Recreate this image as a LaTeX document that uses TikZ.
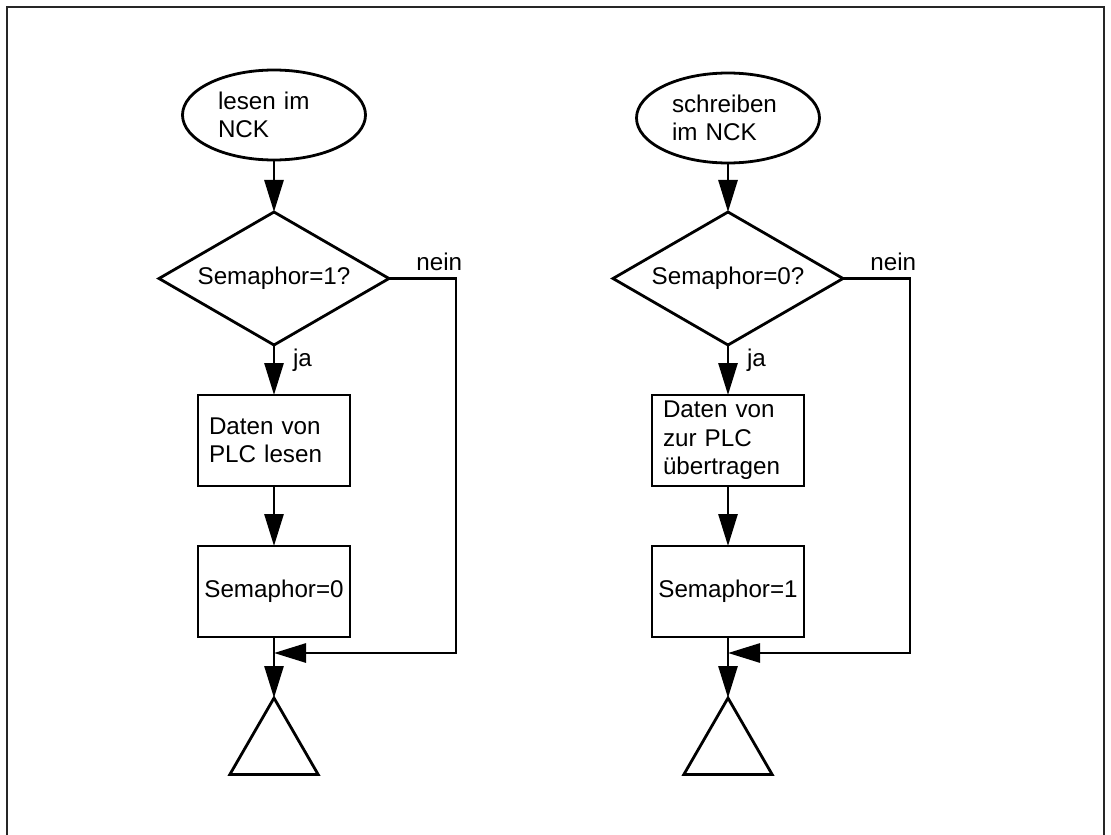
\documentclass[tikz,border=0pt]{standalone}
\usepackage{fontspec}
\setmainfont{Liberation Sans}
\usetikzlibrary{arrows.meta,positioning,shapes.geometric}
\tikzset{
  pap/.style={x=1pt, y=-1pt, line width=2.8pt, >={Triangle[length=32pt,width=19pt]},
              every node/.style={font=\fontsize{24.2}{28.5}\selectfont, inner sep=0pt, outer sep=0pt}},
  term/.style={draw, ellipse, minimum width=183pt, minimum height=90pt, text width=112pt, align=left},
  cond/.style={draw, diamond, aspect=1.73, minimum width=230pt, minimum height=133pt},
  work/.style={draw, rectangle, minimum width=152pt, minimum height=91pt, inner xsep=11pt, inner ysep=2pt, text width=130pt, align=left},
  setbox/.style={draw, rectangle, minimum width=152pt, minimum height=91pt},
  endtri/.style={draw, regular polygon, regular polygon sides=3, minimum size=102pt},
  flow/.style={->},
  frm/.style={line width=2pt, black!85}
}

\begin{document}
\begin{tikzpicture}[pap]
\useasboundingbox (0,0) rectangle (1111,835);
\draw[frm] (7,850) -- (7,7) -- (1104,7) -- (1104,850);
% lesen
\node[term] (s1) at (274,115) {lesen im\\NCK};
\node[cond, below=52pt of s1] (d1) {Semaphor=1?};
\node[work, below=50pt of d1] (b1) {Daten von\\PLC lesen};
\node[setbox, below=60pt of b1] (b2) {Semaphor=0};
\node[endtri, below=61pt of b2] (t1) {};
\coordinate[below=16pt of b2] (m1);
\draw[flow] (s1) -- (d1);
\draw[flow] (d1) -- node[right=19pt, pos=0.3] {ja} (b1);
\draw[flow] (b1) -- (b2);
\draw[flow] (b2) -- (t1.north);
\draw[flow] (d1.east) -- node[above=8pt, pos=0.75] {nein} ++(67,0) |- (m1);
% schreiben
\node[term] (s2) at (728,118) {schreiben\\im NCK};
\node[cond, below=49pt of s2] (d2) {Semaphor=0?};
\node[work, below=50pt of d2] (b3) {Daten von\\zur PLC\\übertragen};
\node[setbox, below=60pt of b3] (b4) {Semaphor=1};
\node[endtri, below=61pt of b4] (t2) {};
\coordinate[below=16pt of b4] (m2);
\draw[flow] (s2) -- (d2);
\draw[flow] (d2) -- node[right=19pt, pos=0.3] {ja} (b3);
\draw[flow] (b3) -- (b4);
\draw[flow] (b4) -- (t2.north);
\draw[flow] (d2.east) -- node[above=8pt, pos=0.75] {nein} ++(67,0) |- (m2);
\end{tikzpicture}
\end{document}
